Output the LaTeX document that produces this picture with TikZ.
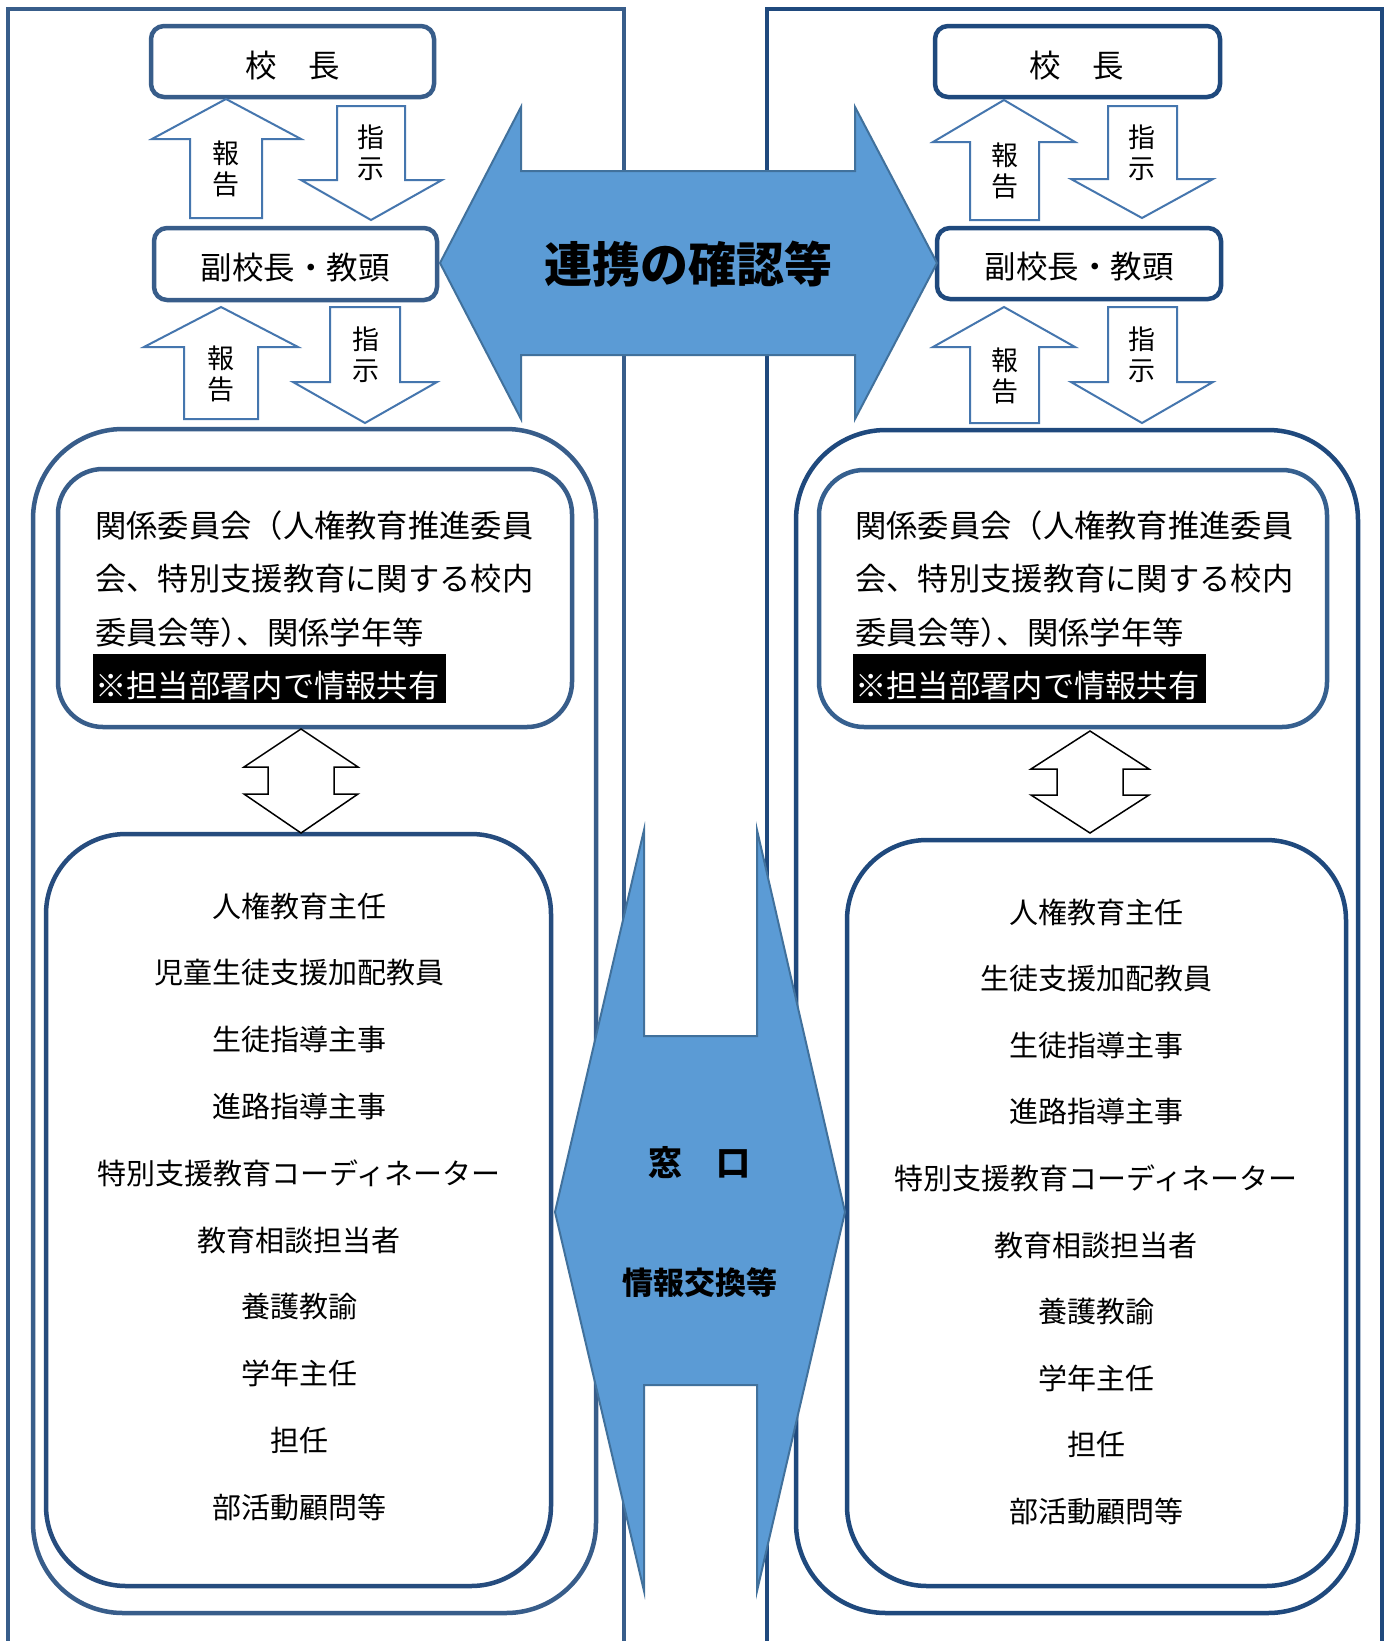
\documentclass[tikz,border=0pt]{standalone}
\usepackage{fontspec}
\newfontfamily\jp{Noto Sans CJK JP}
\definecolor{lc}{HTML}{385D8A}
\definecolor{rc}{HTML}{1F497D}
\definecolor{lcb}{HTML}{264C7E}
\definecolor{rcl}{HTML}{36608F}
\definecolor{arc}{HTML}{4576AE}
\definecolor{bfill}{HTML}{5B9BD5}
\definecolor{bline}{HTML}{41719C}
\begin{document}
\begin{tikzpicture}[x=1pt,y=-1pt,
  panel/.style={line width=4pt},
  rbox/.style={line width=4.5pt,fill=white},
  blk/.style={draw=arc,line width=2pt,fill=white,line join=miter},
  bigarrow/.style={fill=bfill,draw=bline,line width=2pt},
  hollow/.style={draw=black,line width=1.5pt,fill=white},
  vtxt/.style={font=\jp\fontsize{27}{31}\selectfont,align=center,inner sep=0pt},
  ttxt/.style={font=\jp\fontsize{31.5}{31.5}\selectfont,inner sep=0pt},
  btxt/.style={font=\jp\fontsize{31.3}{31.3}\selectfont,inner sep=0pt,anchor=west},
  ltxt/.style={font=\jp\fontsize{29}{29}\selectfont,inner sep=0pt},
]
\useasboundingbox (0,0) rectangle (1391,1641);
\fill[white] (0,0) rectangle (1391,1641);

% panels
\draw[panel,draw=lc] (8,1645) -- (8,9) -- (624,9) -- (624,1645);
\draw[panel,draw=rc] (767,1645) -- (767,9) -- (1382,9) -- (1382,1645);

% outer rounded boxes
\draw[rbox,draw=lc,rounded corners=90pt] (33,429) rectangle (596,1613);
\draw[rbox,draw=rc,rounded corners=90pt] (796,430) rectangle (1358,1613);
% inner top boxes
\draw[rbox,draw=lc,rounded corners=45pt] (58,469) rectangle (572,727);
\draw[rbox,draw=rcl,rounded corners=45pt] (819,470) rectangle (1327,727);
% inner bottom boxes
\draw[rbox,draw=lcb,rounded corners=80pt] (46,834) rectangle (551,1586);
\draw[rbox,draw=rc,rounded corners=80pt] (847,840) rectangle (1346,1586);

% principal / vice-principal boxes
\draw[rbox,draw=lc,rounded corners=13pt] (151,26) rectangle (434,97);
\node[ttxt] (kochoL) at (293,66) {校　長};
\draw[rbox,draw=lc,rounded corners=13pt] (154,228) rectangle (437,300);
\node[ttxt] (fukuL) at (295,268) {副校長・教頭};
\draw[rbox,draw=rc,rounded corners=13pt] (935,26) rectangle (1220,97);
\node[ttxt] (kochoR) at (1077,66) {校　長};
\draw[rbox,draw=rc,rounded corners=13pt] (937,228) rectangle (1221,299);
\node[ttxt] (fukuR) at (1079,267) {副校長・教頭};

% report / instruction arrows, left
\draw[blk] (190,218) -- (190,139) -- (152,139) -- (226,99) -- (301,139) -- (262,139) -- (262,218) -- cycle;
\node[vtxt] (repL1) at (226,169) {報\\告};
\draw[blk] (337,106) -- (405,106) -- (405,180) -- (442,180) -- (371,220) -- (301,180) -- (337,180) -- cycle;
\node[vtxt] (insL1) at (371,153) {指\\示};
\draw[blk] (184,419) -- (184,347) -- (144,347) -- (221,307) -- (298,347) -- (258,347) -- (258,419) -- cycle;
\node[vtxt] (repL2) at (221,374) {報\\告};
\draw[blk] (330,307) -- (400,307) -- (400,382) -- (437,382) -- (365,423) -- (293,382) -- (330,382) -- cycle;
\node[vtxt] (insL2) at (366,355) {指\\示};

% report / instruction arrows, right
\draw[blk] (970,220) -- (970,142) -- (933,142) -- (1004,100) -- (1075,142) -- (1039,142) -- (1039,220) -- cycle;
\node[vtxt] (repR1) at (1005,171) {報\\告};
\draw[blk] (1108,106) -- (1177,106) -- (1177,179) -- (1213,179) -- (1142,218) -- (1071,179) -- (1108,179) -- cycle;
\node[vtxt] (insR1) at (1142,153) {指\\示};
\draw[blk] (970,423) -- (970,347) -- (933,347) -- (1004,307) -- (1075,347) -- (1039,347) -- (1039,423) -- cycle;
\node[vtxt] (repR2) at (1005,376) {報\\告};
\draw[blk] (1108,307) -- (1177,307) -- (1177,382) -- (1213,382) -- (1142,423) -- (1071,382) -- (1108,382) -- cycle;
\node[vtxt] (insR2) at (1142,355) {指\\示};

% committee texts, left
\node[btxt] (cL1) at (95,526) {関係委員会（人権教育推進委員};
\node[btxt] (cL2) at (95,579) {会、特別支援教育に関する校内};
\node[btxt] (cL3) at (95,633) {委員会等）\kern-.5em、関係学年等};
\fill[black] (93,654) rectangle (446,703);
\node[btxt,text=white] (cL4) at (95,686) {※担当部署内で情報共有};

% committee texts, right
\node[btxt] (cR1) at (855,526) {関係委員会（人権教育推進委員};
\node[btxt] (cR2) at (855,579) {会、特別支援教育に関する校内};
\node[btxt] (cR3) at (855,633) {委員会等）\kern-.5em、関係学年等};
\fill[black] (853,654) rectangle (1206,703);
\node[btxt,text=white] (cR4) at (855,686) {※担当部署内で情報共有};

% hollow double arrows
\draw[hollow] (301,729) -- (358,767) -- (334,767) -- (334,794) -- (358,794) -- (301,833) -- (244,794) -- (268,794) -- (268,767) -- (244,767) -- cycle;
\draw[hollow] (1090,731) -- (1149,769) -- (1123,769) -- (1123,795) -- (1149,795) -- (1090,833) -- (1031,795) -- (1057,795) -- (1057,769) -- (1031,769) -- cycle;

% staff lists
\foreach \t [count=\i] in {人権教育主任,児童生徒支援加配教員,生徒指導主事,進路指導主事,特別支援教育コーディネーター,教育相談担当者,養護教諭,学年主任,担任,部活動顧問等}
  \node[ltxt] (sL\i) at (299,{906+66.8*(\i-1)}) {\t};
\foreach \t [count=\i] in {人権教育主任,生徒支援加配教員,生徒指導主事,進路指導主事,特別支援教育コーディネーター,教育相談担当者,養護教諭,学年主任,担任,部活動顧問等}
  \node[ltxt] (sR\i) at (1096,{912+66.6*(\i-1)}) {\t};

% big horizontal arrow
\draw[bigarrow] (440,263) -- (521,107) -- (521,171) -- (855,171) -- (855,107) -- (937,263) -- (855,419) -- (855,355) -- (521,355) -- (521,419) -- cycle;
\node[font=\jp\bfseries\fontsize{48}{48}\selectfont,inner sep=0pt] (renkei) at (688,264) {連携の確認等};

% big vertical double arrow
\draw[bigarrow] (555,1212) -- (644,830) -- (644,1036) -- (757,1036) -- (757,830) -- (845,1212) -- (757,1591) -- (757,1385) -- (644,1385) -- (644,1591) -- cycle;
\node[font=\jp\bfseries\fontsize{34}{34}\selectfont,inner sep=0pt] (madoguchi) at (699,1163) {窓　口};
\node[font=\jp\bfseries\fontsize{31}{31}\selectfont,inner sep=0pt] (joho) at (700,1283) {情報交換等};
\end{tikzpicture}
\end{document}
